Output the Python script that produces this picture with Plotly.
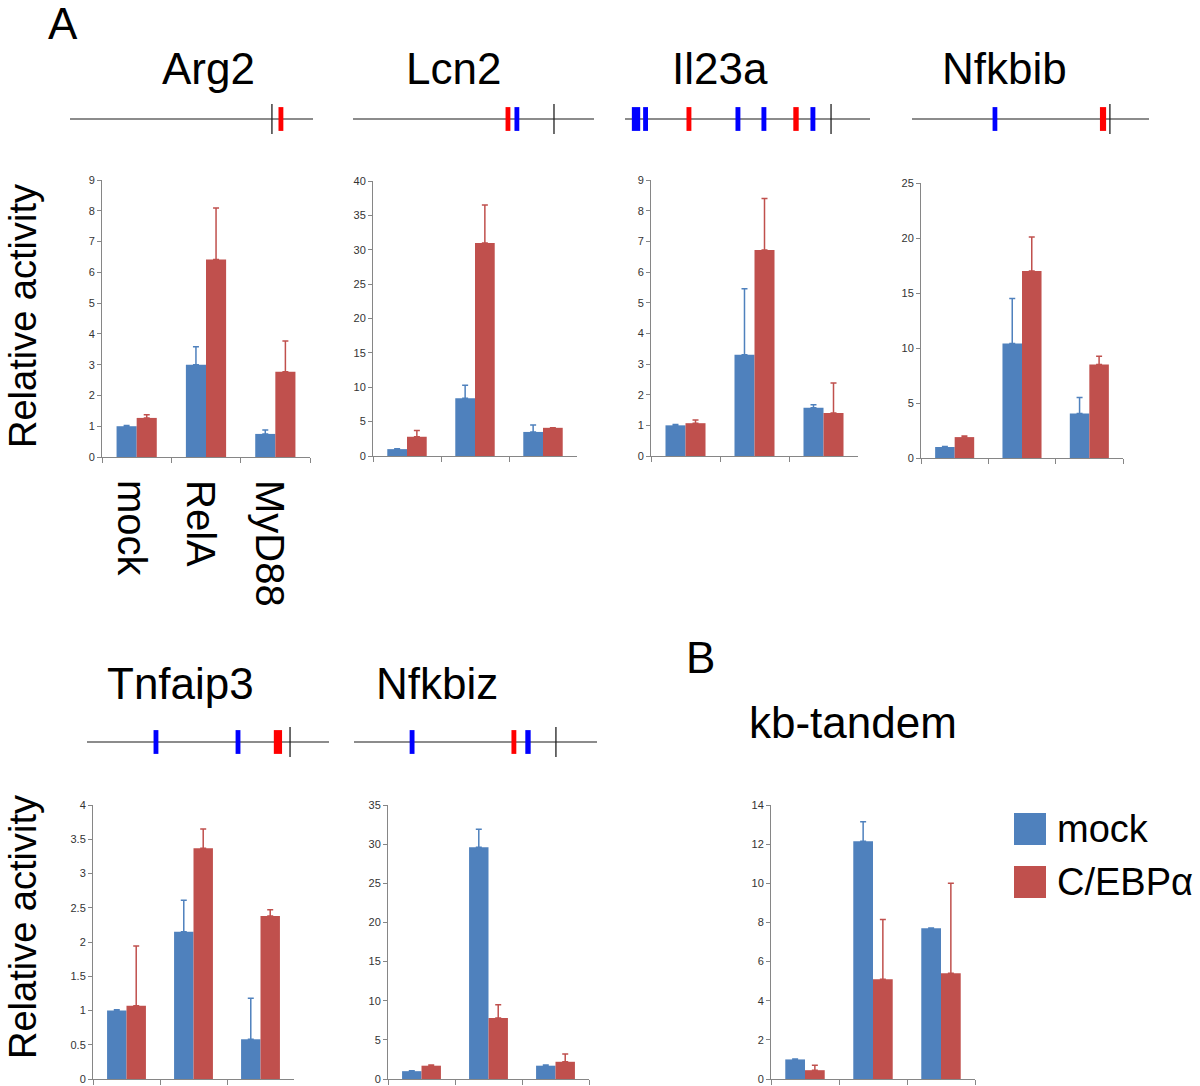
import plotly.graph_objects as go

W, H = 1200, 1086

# ---------------- data ----------------
conditions = ["mock", "RelA", "MyD88"]
series_names = ["mock", "C/EBPα"]

arg2_mock = [1.0, 3.0, 0.75]
arg2_mock_err = [0.02, 0.58, 0.13]
arg2_cebpa = [1.27, 6.42, 2.77]
arg2_cebpa_err = [0.1, 1.67, 1.0]

lcn2_mock = [1.0, 8.4, 3.5]
lcn2_mock_err = [0.05, 1.9, 1.0]
lcn2_cebpa = [2.8, 31.0, 4.1]
lcn2_cebpa_err = [0.9, 5.5, 0.0]

il23a_mock = [1.0, 3.3, 1.57]
il23a_mock_err = [0.03, 2.15, 0.1]
il23a_cebpa = [1.07, 6.72, 1.4]
il23a_cebpa_err = [0.1, 1.68, 0.98]

nfkbib_mock = [1.0, 10.4, 4.05]
nfkbib_mock_err = [0.05, 4.1, 1.45]
nfkbib_cebpa = [1.9, 17.0, 8.5]
nfkbib_cebpa_err = [0.1, 3.1, 0.75]

tnfaip3_mock = [1.0, 2.15, 0.58]
tnfaip3_mock_err = [0.01, 0.46, 0.6]
tnfaip3_cebpa = [1.07, 3.37, 2.38]
tnfaip3_cebpa_err = [0.87, 0.28, 0.09]

nfkbiz_mock = [1.0, 29.6, 1.7]
nfkbiz_mock_err = [0.05, 2.3, 0.1]
nfkbiz_cebpa = [1.7, 7.8, 2.2]
nfkbiz_cebpa_err = [0.1, 1.7, 1.0]

kb_mock = [1.0, 12.15, 7.7]
kb_mock_err = [0.02, 1.0, 0.02]
kb_cebpa = [0.45, 5.1, 5.4]
kb_cebpa_err = [0.25, 3.05, 4.6]

y_max = [9, 40, 9, 25, 4, 35, 14]
y_dtick = [1, 5, 1, 5, 0.5, 5, 2]

# promoter diagrams: positions relative to the drawn region (0..1), TSS and sites
arg2_tss = 0.831
arg2_sites = [0.868]
arg2_site_kind = ["C/EBP"]
arg2_site_len = [0.02]

lcn2_tss = 0.834
lcn2_sites = [0.643, 0.680]
lcn2_site_kind = ["C/EBP", "NF-kB"]
lcn2_site_len = [0.02, 0.02]

il23a_tss = 0.841
il23a_sites = [0.045, 0.084, 0.261, 0.461, 0.567, 0.698, 0.767]
il23a_site_kind = ["NF-kB", "NF-kB", "C/EBP", "NF-kB", "NF-kB", "C/EBP", "NF-kB"]
il23a_site_len = [0.034, 0.02, 0.02, 0.02, 0.02, 0.022, 0.02]

nfkbib_tss = 0.835
nfkbib_sites = [0.35, 0.806]
nfkbib_site_kind = ["NF-kB", "C/EBP"]
nfkbib_site_len = [0.02, 0.026]

tnfaip3_tss = 0.839
tnfaip3_sites = [0.285, 0.624, 0.789]
tnfaip3_site_kind = ["NF-kB", "NF-kB", "C/EBP"]
tnfaip3_site_len = [0.02, 0.02, 0.034]

nfkbiz_tss = 0.831
nfkbiz_sites = [0.239, 0.658, 0.716]
nfkbiz_site_kind = ["NF-kB", "C/EBP", "NF-kB"]
nfkbiz_site_len = [0.02, 0.02, 0.022]

# ---------------- styling / layout ----------------
BLUE = "#4F81BD"
RED = "#C0504D"
SITE_COLORS = {"NF-kB": "#0000FF", "C/EBP": "#FF0000"}
FONT = "Liberation Sans, Arial, sans-serif"
AXIS_GRAY = "#868686"

# chart boxes in pixels: x0, x1, ytop, ybottom
chart_boxes = [
    (102, 310, 180, 457),
    (373, 577, 181, 456),
    (651, 858, 180, 456),
    (921, 1123, 183, 458),
    (93, 294, 805, 1079),
    (388, 589, 805, 1079),
    (771, 975, 805, 1079),
]
# diagram boxes: x0, x1, ycenter
diagram_boxes = [
    (70, 313, 119),
    (353, 594, 119),
    (625, 870, 119),
    (912, 1149, 119),
    (87, 329, 742),
    (354, 597, 742),
]

def xdom(a, b):
    return [a / W, b / W]

def ydom(top, bottom):
    return [1 - bottom / H, 1 - top / H]

chart_data = [
    (arg2_mock, arg2_mock_err, arg2_cebpa, arg2_cebpa_err),
    (lcn2_mock, lcn2_mock_err, lcn2_cebpa, lcn2_cebpa_err),
    (il23a_mock, il23a_mock_err, il23a_cebpa, il23a_cebpa_err),
    (nfkbib_mock, nfkbib_mock_err, nfkbib_cebpa, nfkbib_cebpa_err),
    (tnfaip3_mock, tnfaip3_mock_err, tnfaip3_cebpa, tnfaip3_cebpa_err),
    (nfkbiz_mock, nfkbiz_mock_err, nfkbiz_cebpa, nfkbiz_cebpa_err),
    (kb_mock, kb_mock_err, kb_cebpa, kb_cebpa_err),
]

diagram_data = [
    (arg2_tss, arg2_sites, arg2_site_kind, arg2_site_len),
    (lcn2_tss, lcn2_sites, lcn2_site_kind, lcn2_site_len),
    (il23a_tss, il23a_sites, il23a_site_kind, il23a_site_len),
    (nfkbib_tss, nfkbib_sites, nfkbib_site_kind, nfkbib_site_len),
    (tnfaip3_tss, tnfaip3_sites, tnfaip3_site_kind, tnfaip3_site_len),
    (nfkbiz_tss, nfkbiz_sites, nfkbiz_site_kind, nfkbiz_site_len),
]

fig = go.Figure()
layout = dict(
    width=W, height=H,
    margin=dict(l=0, r=0, t=0, b=0),
    paper_bgcolor="white", plot_bgcolor="white",
    showlegend=False,
    barmode="group", bargap=0.42, bargroupgap=0,
    font=dict(family=FONT, color="black"),
)

for i, (box, vals) in enumerate(zip(chart_boxes, chart_data)):
    n = i + 1
    xa = "x" if n == 1 else f"x{n}"
    ya = "y" if n == 1 else f"y{n}"
    m, me, c, ce = vals
    fig.add_trace(go.Bar(
        x=conditions, y=m, name=series_names[0], marker=dict(color=BLUE, line=dict(width=0)),
        error_y=dict(type="data", symmetric=False, array=me, arrayminus=[0] * len(me),
                     color=BLUE, thickness=1.5, width=3),
        xaxis=xa, yaxis=ya, offsetgroup="a"))
    fig.add_trace(go.Bar(
        x=conditions, y=c, name=series_names[1], marker=dict(color=RED, line=dict(width=0)),
        error_y=dict(type="data", symmetric=False, array=ce, arrayminus=[0] * len(ce),
                     color=RED, thickness=1.5, width=3),
        xaxis=xa, yaxis=ya, offsetgroup="b"))
    x0, x1, yt, yb = box
    xkey = "xaxis" if n == 1 else f"xaxis{n}"
    ykey = "yaxis" if n == 1 else f"yaxis{n}"
    layout[xkey] = dict(
        domain=xdom(x0, x1), anchor=ya, type="category", range=[-0.5, 2.5],
        showline=True, linecolor=AXIS_GRAY, linewidth=1,
        ticks="outside", tickson="boundaries", ticklen=5, tickcolor=AXIS_GRAY,
        showticklabels=(n == 1), tickangle=90,
        tickfont=dict(family=FONT, size=40, color="black"),
        ticklabelstandoff=14, ticklabelshift=-6,
        showgrid=False, zeroline=False, automargin=False, fixedrange=True)
    layout[ykey] = dict(
        domain=ydom(yt, yb), anchor=xa, range=[0, y_max[i]], dtick=y_dtick[i], tick0=0,
        showline=True, linecolor=AXIS_GRAY, linewidth=1,
        ticks="outside", ticklen=4, tickcolor=AXIS_GRAY,
        tickfont=dict(family=FONT, size=11, color="#333333"),
        showgrid=False, zeroline=False, automargin=False, fixedrange=True)

# promoter diagrams
for j, (box, dd) in enumerate(zip(diagram_boxes, diagram_data)):
    n = 8 + j
    xa, ya = f"x{n}", f"y{n}"
    x0, x1, yc = box
    tss, sites, kinds, lens = dd
    span_px = x1 - x0
    fig.add_trace(go.Scatter(
        x=[0, 1], y=[0, 0], mode="lines", line=dict(color="#8C8C8C", width=2),
        xaxis=xa, yaxis=ya, hoverinfo="skip"))
    fig.add_trace(go.Scatter(
        x=[tss], y=[0], mode="markers",
        marker=dict(symbol="line-ns", size=23, line=dict(color="#202020", width=1.3)),
        xaxis=xa, yaxis=ya, hoverinfo="skip"))
    fig.add_trace(go.Scatter(
        x=sites, y=[0] * len(sites), mode="markers",
        marker=dict(symbol="line-ns", size=17,
                    line=dict(color=[SITE_COLORS[k] for k in kinds],
                              width=[l * span_px for l in lens])),
        xaxis=xa, yaxis=ya, hoverinfo="skip"))
    layout[f"xaxis{n}"] = dict(domain=xdom(x0, x1), anchor=ya, range=[0, 1], visible=False,
                               fixedrange=True)
    layout[f"yaxis{n}"] = dict(domain=ydom(yc - 15, yc + 15), anchor=xa, range=[-1, 1],
                               visible=False, fixedrange=True)

annotations = []
def text(t, x, y, size, angle=0, xanchor="center"):
    annotations.append(dict(text=t, x=x / W, y=1 - y / H, xref="paper", yref="paper",
                            showarrow=False, xanchor=xanchor, yanchor="middle",
                            textangle=angle, font=dict(family=FONT, size=size, color="black")))

gene_titles = ["Arg2", "Lcn2", "Il23a", "Nfkbib", "Tnfaip3", "Nfkbiz", "kb-tandem"]
title_pos = [(208, 68), (453, 68), (720, 68), (1004, 68), (180, 683), (437, 683), (853, 722)]
for t, (x, y) in zip(gene_titles, title_pos):
    text(t, x, y, 44)

text("A", 63, 24, 44)
text("B", 701, 657, 44)
text("Relative activity", 23, 316, 38, angle=-90)
text("Relative activity", 23, 927, 38, angle=-90)

# legend
shapes = []
legend_rows = [(series_names[0], BLUE, 829), (series_names[1], RED, 882)]
for name, col, yc in legend_rows:
    shapes.append(dict(type="rect", xref="paper", yref="paper",
                       x0=1014 / W, x1=1046 / W, y0=1 - (yc + 16) / H, y1=1 - (yc - 16) / H,
                       fillcolor=col, line=dict(width=0)))
    text(name, 1055, yc, 38, xanchor="left")

layout["annotations"] = annotations
layout["shapes"] = shapes
fig.update_layout(**layout)

fig.write_html("out.html", config={"displayModeBar": False},
               post_script="document.body.style.margin='0';document.body.style.overflow='hidden';")
